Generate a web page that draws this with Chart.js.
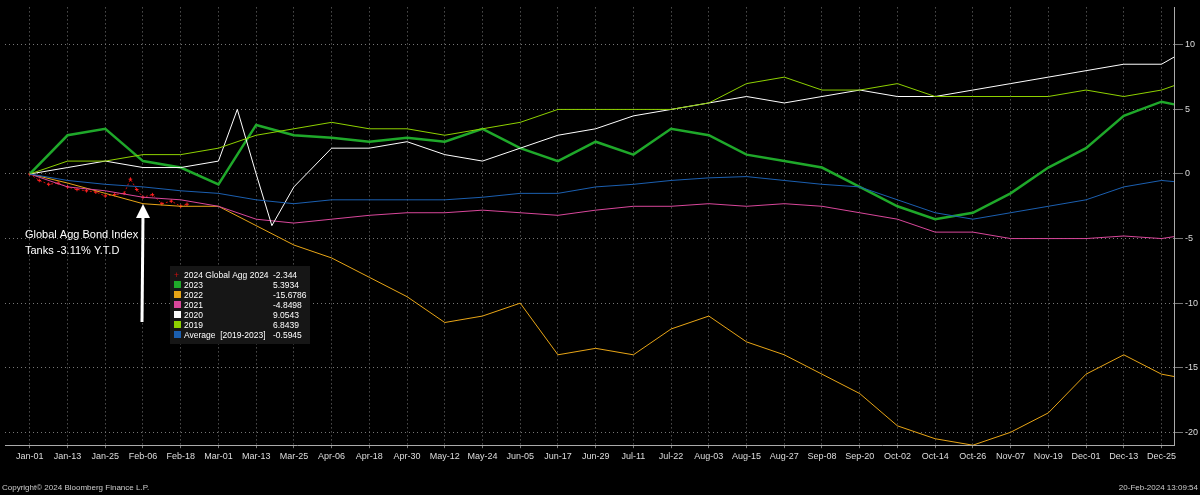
<!DOCTYPE html><html><head><meta charset="utf-8">
<script src="https://cdn.jsdelivr.net/npm/chart.js@4"></script>
<style>html,body{margin:0;background:#000}#w{width:1200px;height:495px}</style></head><body><div id="w"><canvas id="c"></canvas></div>
<script>
const tickLabels=["Jan-01","Jan-13","Jan-25","Feb-06","Feb-18","Mar-01","Mar-13","Mar-25","Apr-06","Apr-18","Apr-30","May-12","May-24","Jun-05","Jun-17","Jun-29","Jul-11","Jul-22","Aug-03","Aug-15","Aug-27","Sep-08","Sep-20","Oct-02","Oct-14","Oct-26","Nov-07","Nov-19","Dec-01","Dec-13","Dec-25"];
const days=[0,12,24,36,48,60,72,84,96,108,120,132,144,156,168,180,192,204,216,228,240,252,264,276,288,300,312,324,336,348,360,364];
const y2023=[0,3,3.5,1,0.5,-0.8,3.8,3,2.8,2.5,2.8,2.5,3.5,2,1,2.5,1.5,3.5,3,1.5,1,0.5,-1,-2.5,-3.5,-3,-1.5,0.5,2,4.5,5.6,5.39];
const y2022=[0,-0.7,-1.5,-2.3,-2.5,-2.5,-4,-5.5,-6.5,-8,-9.5,-11.5,-11,-10,-14,-13.5,-14,-12,-11,-13,-14,-15.5,-17,-19.5,-20.5,-21,-20,-18.5,-15.5,-14,-15.5,-15.68];
const y2021=[0,-1,-1.3,-1.8,-2,-2.5,-3.5,-3.8,-3.5,-3.2,-3,-3,-2.8,-3,-3.2,-2.8,-2.5,-2.5,-2.3,-2.5,-2.3,-2.5,-3,-3.5,-4.5,-4.5,-5,-5,-5,-4.8,-5,-4.85];
const days2020=[0,12,24,36,48,60,66,72,77,84,96,108,120,132,144,156,168,180,192,204,216,228,240,252,264,276,288,300,312,324,336,348,360,364];
const y2020=[0,0.5,1,0.5,0.5,1,5,0,-4,-1,2,2,2.5,1.5,1,2,3,3.5,4.5,5,5.5,6,5.5,6,6.5,6,6,6.5,7,7.5,8,8.5,8.5,9.05];
const y2019=[0,1,1,1.5,1.5,2,3,3.5,4,3.5,3.5,3,3.5,4,5,5,5,5,5.5,7,7.5,6.5,6.5,7,6,6,6,6,6.5,6,6.5,6.84];
const yAvg=[0,-0.5,-0.8,-1,-1.3,-1.5,-2,-2.3,-2,-2,-2,-2,-1.8,-1.5,-1.5,-1,-0.8,-0.5,-0.3,-0.2,-0.5,-0.8,-1,-2,-3,-3.5,-3,-2.5,-2,-1,-0.5,-0.59];
const days2024=[0,3,6,9,12,15,18,21,24,27,30,32,34,36,39,42,45,48,50];
const y2024=[0,-0.5,-0.8,-0.7,-1,-1.2,-1.3,-1.4,-1.7,-1.6,-1.5,-0.4,-1.2,-1.8,-1.6,-2.3,-2.1,-2.5,-2.34];
const legendRows=[["2024 Global Agg 2024","-2.344","#d01010"],["2023","5.3934","#1fa82a"],["2022","-15.6786","#e8a516"],["2021","-4.8498","#d9479b"],["2020","9.0543","#ffffff"],["2019","6.8439","#8ed100"],["Average  [2019-2023]","-0.5945","#1b5fb0"]];
const pts=(xs,ys)=>xs.map((x,i)=>({x,y:ys[i]}));
const ds=(l,xs,ys,c,w)=>({label:l,data:pts(xs,ys),borderColor:c,borderWidth:w,pointRadius:0,tension:0});
const r=ds("2024",days2024,y2024,"#d01010",1);r.borderDash=[2,2];r.pointRadius=1.8;r.pointStyle='cross';r.pointBorderColor="#ff2020";
const extras={id:'ex',afterDraw(ch){const g=ch.ctx;g.save();
g.fillStyle="#fff";g.font="11px Arial";g.fillText("Global Agg Bond Index",25,238);g.fillText("Tanks -3.11% Y.T.D",25,254);
g.strokeStyle="#fff";g.lineWidth=3;g.beginPath();g.moveTo(142,322);g.lineTo(143,214);g.stroke();
g.beginPath();g.moveTo(136,218);g.lineTo(143,204);g.lineTo(150,218);g.closePath();g.fill();
g.fillStyle="#161616";g.fillRect(170,266,140,78);g.font="8.5px Arial";
legendRows.forEach((row,i)=>{const y=275+i*10;if(i==0){g.fillStyle=row[2];g.fillText("+",174,y+3);}else{g.fillStyle=row[2];g.fillRect(174,y-4,7,7);}
g.fillStyle="#fff";g.fillText(row[0],184,y+3);g.fillText(row[1],273,y+3);});
g.fillStyle="#ccc";g.font="8px Arial";g.fillText("Copyright\u00a9 2024 Bloomberg Finance L.P.",2,490);g.textAlign="right";g.fillText("20-Feb-2024 13:09:54",1198,490);g.restore();}};
new Chart(document.getElementById('c'),{type:'line',data:{datasets:[ds("Average",days,yAvg,"#1b5fb0",1),ds("2019",days,y2019,"#8ed100",1),ds("2020",days2020,y2020,"#ffffff",1),ds("2021",days,y2021,"#d9479b",1),ds("2022",days,y2022,"#e8a516",1),ds("2023",days,y2023,"#1fa82a",2.5),r]},
options:{responsive:true,maintainAspectRatio:false,animation:false,layout:{padding:{bottom:30,left:-6,right:0,top:-8}},
plugins:{legend:{display:false},tooltip:{enabled:false}},
scales:{x:{type:'linear',min:-7.9,max:364.3,afterBuildTicks:a=>{a.ticks=tickLabels.map((_,i)=>({value:i*12}));},
ticks:{color:'#ddd',font:{size:9},maxRotation:0,autoSkip:false,callback:(v)=>tickLabels[Math.round(v/12)]},
grid:{color:'#777',drawTicks:true,tickLength:3},border:{color:'#aaa',dash:[1,3]}},
y:{position:'right',min:-21,max:12.9,afterBuildTicks:a=>{a.ticks=[10,5,0,-5,-10,-15,-20].map(v=>({value:v}));},
ticks:{color:'#ddd',font:{size:9},padding:2},grid:{color:'#777'},border:{color:'#aaa',dash:[1,3]}}}},plugins:[extras]});
</script></body></html>
